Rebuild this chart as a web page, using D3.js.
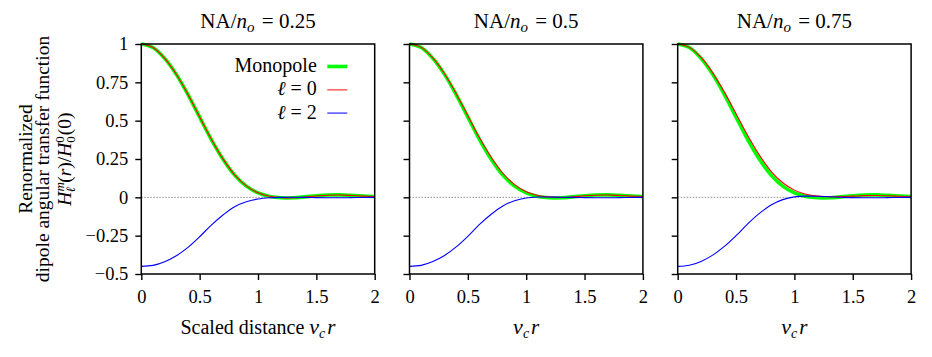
<!DOCTYPE html>
<html>
<head>
<meta charset="utf-8">
<script src="https://cdn.jsdelivr.net/npm/d3@7"></script>
<style>
  body { margin: 0; background: #fff; }
  svg { display: block; }
  svg text { font-family: 'Liberation Serif' !important; }
</style>
</head>
<body>
<div id="chart"></div>
<script>
// Sample positions (scaled distance nu_c r)
const xs = [0, 0.1, 0.2, 0.3, 0.4, 0.5, 0.6, 0.7, 0.8, 0.9, 1.0,
            1.1, 1.2, 1.3, 1.4, 1.5, 1.6, 1.7, 1.8, 1.9, 2.0];

// Panel titles (NA / n_o)
const naValues = ["0.25", "0.5", "0.75"];

// Monopole (same in every panel)
const monopole = [1.000, 0.977, 0.906, 0.802, 0.670, 0.523, 0.377, 0.249, 0.145, 0.073, 0.029,
                  0.006, -0.003, -0.003, 0.003, 0.010, 0.015, 0.016, 0.013, 0.009, 0.005];

// l = 0 for each panel
const ell0 = [
  [1.000, 0.977, 0.907, 0.803, 0.671, 0.524, 0.379, 0.251, 0.147, 0.075, 0.030,
   0.007, -0.002, -0.003, 0.002, 0.009, 0.014, 0.015, 0.012, 0.008, 0.005],
  [1.000, 0.978, 0.909, 0.806, 0.676, 0.532, 0.388, 0.261, 0.157, 0.083, 0.037,
   0.012, 0.002, -0.001, 0.003, 0.010, 0.014, 0.015, 0.012, 0.008, 0.005],
  [1.000, 0.978, 0.912, 0.812, 0.686, 0.545, 0.403, 0.275, 0.170, 0.095, 0.047,
   0.020, 0.008, 0.004, 0.005, 0.008, 0.011, 0.012, 0.010, 0.007, 0.004]
];

// l = 2 for each panel
const ell2 = [
  [-0.450, -0.444, -0.420, -0.381, -0.326, -0.257, -0.181, -0.115, -0.061, -0.029, -0.011,
   -0.003, 0.000, 0.001, 0.000, -0.002, -0.003, -0.003, -0.002, -0.001, 0.000],
  [-0.450, -0.444, -0.419, -0.379, -0.323, -0.254, -0.177, -0.110, -0.056, -0.022, -0.004,
   0.002, 0.002, 0.001, 0.000, -0.002, -0.003, -0.003, -0.002, -0.001, 0.000],
  [-0.450, -0.443, -0.418, -0.377, -0.320, -0.250, -0.173, -0.105, -0.050, -0.015, 0.003,
   0.008, 0.007, 0.004, 0.001, -0.002, -0.003, -0.003, -0.002, -0.001, 0.000]
];

// Tick values
const xTicks = [0, 0.5, 1, 1.5, 2];
const yTicks = [-0.5, -0.25, 0, 0.25, 0.5, 0.75, 1];

// Legend entries
const legendLabels = ["Monopole", "0", "2"];

// Layout
const W = 932, H = 357;
const plotLeft = 141.3, plotW = 233.4, gap = 34.8;
const plotTop = 44, plotBottom = 274;
const tickSize = 18.5, labelSize = 20;
const serif = "'Liberation Serif'";

const svg = d3.select("#chart").append("svg")
  .attr("width", W)
  .attr("height", H);

const x = d3.scaleLinear().domain([0, 2]).range([0, plotW]);
const y = d3.scaleLinear().domain([-0.5, 1]).range([plotBottom, plotTop]);

const line = d3.line()
  .curve(d3.curveCatmullRom.alpha(0.5))
  .x((d, i) => x(xs[i]))
  .y(d => y(d));

naValues.forEach((na, p) => {
  const g = svg.append("g")
    .attr("transform", `translate(${plotLeft + p * (plotW + gap)},0)`);

  // zero reference line
  g.append("line")
    .attr("x1", x(0)).attr("x2", x(2))
    .attr("y1", y(0)).attr("y2", y(0))
    .attr("stroke", "#777")
    .attr("stroke-width", 0.8)
    .attr("stroke-dasharray", "1.5,1.5");

  // curves
  g.append("path").datum(monopole)
    .attr("fill", "none").attr("stroke", "#00ff00").attr("stroke-width", 3.6)
    .attr("d", line);
  g.append("path").datum(ell0[p])
    .attr("fill", "none").attr("stroke", "#ff0000").attr("stroke-width", 1.1)
    .attr("d", line);
  g.append("path").datum(ell2[p])
    .attr("fill", "none").attr("stroke", "#0000ff").attr("stroke-width", 1.1)
    .attr("d", line);

  // axes
  const xAxis = g.append("g")
    .attr("transform", `translate(0,${plotBottom})`)
    .call(d3.axisBottom(x).tickValues(xTicks).tickSize(6).tickPadding(10).tickFormat(d3.format("")));
  const yAxis = g.append("g")
    .call(d3.axisLeft(y).tickValues(yTicks).tickSize(6).tickPadding(7)
      .tickFormat(p === 0 ? d3.format("") : () => ""));
  [xAxis, yAxis].forEach(a => {
    a.attr("font-family", null).attr("font-size", null);
    a.select(".domain").remove();
    a.selectAll(".tick line").attr("stroke", "#000").attr("stroke-width", 1.4);
    a.selectAll(".tick text")
      .attr("fill", "#000")
      .style("font-family", serif)
      .style("font-size", tickSize + "px");
  });

  // frame
  g.append("rect")
    .attr("x", 0).attr("y", plotTop)
    .attr("width", plotW).attr("height", plotBottom - plotTop)
    .attr("fill", "none").attr("stroke", "#000").attr("stroke-width", 1.5);

  // title  NA/n_o = value
  const t = g.append("text")
    .attr("x", plotW / 2).attr("y", 27.5)
    .attr("text-anchor", "middle")
    .style("font-family", serif)
    .style("font-size", "21px");
  t.append("tspan").text("NA/");
  t.append("tspan").style("font-style", "italic").text("n");
  t.append("tspan").style("font-style", "italic").style("font-size", "15px").attr("dy", 4).text("o");
  t.append("tspan").attr("dy", -4).attr("dx", 2).text(" = " + na);

  // x label
  const xl = g.append("text")
    .attr("x", plotW / 2).attr("y", 334)
    .attr("text-anchor", "middle")
    .style("font-family", serif)
    .style("font-size", labelSize + "px");
  if (p === 0) xl.append("tspan").text("Scaled distance ");
  xl.append("tspan").style("font-style", "italic").style("font-size", "22px").text("ν");
  xl.append("tspan").style("font-style", "italic").style("font-size", "14px").attr("dy", 4).text("c");
  xl.append("tspan").style("font-style", "italic").style("font-size", "21px").attr("dy", -4).attr("dx", 2).text("r");

  // legend in first panel
  if (p === 0) {
    const colors = ["#00ff00", "#ff6666", "#4444ff"];
    const widths = [3.6, 1.6, 1.4];
    legendLabels.forEach((lab, i) => {
      const ly = 72 + i * 23.3;
      const lt = g.append("text")
        .attr("x", 175.5).attr("y", ly)
        .attr("text-anchor", "end")
        .style("font-family", serif)
        .style("font-size", labelSize + "px");
      if (i === 0) {
        lt.text(lab);
      } else {
        lt.append("tspan").style("font-style", "italic").text("ℓ");
        lt.append("tspan").text(" = " + lab);
      }
      g.append("line")
        .attr("x1", 186).attr("x2", 206)
        .attr("y1", ly - 5.5).attr("y2", ly - 5.5)
        .attr("stroke", colors[i])
        .attr("stroke-width", widths[i]);
    });
  }
});

// y label (three rotated lines)
const yLines = [27, 44, 66];
const cy = (plotTop + plotBottom) / 2;
const yText = (lx) => svg.append("text")
  .attr("transform", `translate(${lx + 5},${cy}) rotate(-90)`)
  .attr("text-anchor", "middle")
  .style("font-family", serif)
  .style("font-size", "19.5px");
yText(yLines[0]).text("Renormalized");
yText(yLines[1]).text("dipole angular transfer function");
const hl = yText(yLines[2]);
hl.append("tspan").style("font-style", "italic").text("H");
hl.append("tspan").style("font-style", "italic").style("font-size", "13px").attr("dy", -7).text("m");
hl.append("tspan").style("font-style", "italic").style("font-size", "13px").attr("dy", 11).attr("dx", -10).text("ℓ");
hl.append("tspan").attr("dy", -4).attr("dx", 4).text("(");
hl.append("tspan").style("font-style", "italic").text("r");
hl.append("tspan").text(")/");
hl.append("tspan").style("font-style", "italic").text("H");
hl.append("tspan").style("font-size", "13px").attr("dy", -7).text("0");
hl.append("tspan").style("font-size", "13px").attr("dy", 11).attr("dx", -6.5).text("0");
hl.append("tspan").attr("dy", -4).attr("dx", 1).text("(0)");
</script>
</body>
</html>
